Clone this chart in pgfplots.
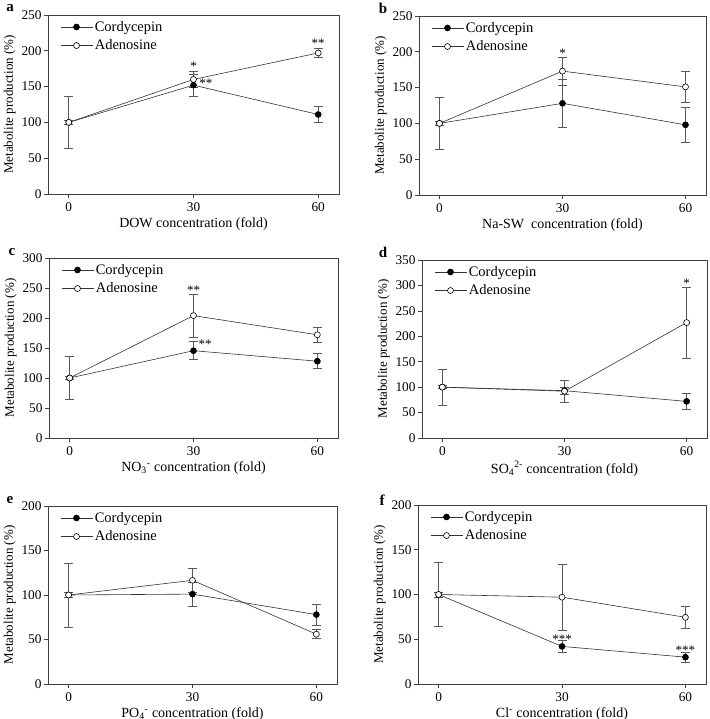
\documentclass[border=0pt]{standalone}
\usepackage{fontspec}
\setmainfont{Liberation Serif}
\usepackage{pgfplots}
\pgfplotsset{compat=1.18}
\pgfkeys{/pgf/number format/assume math mode=true}
\newcommand{\lf}{\fontsize{14.5}{16}\selectfont}
\newcommand{\xf}{\fontsize{14}{15}\selectfont}
\newcommand{\yf}{\fontsize{13}{15}\selectfont}
\pgfplotsset{
  panel/.style={
    scale only axis, height=179pt, anchor=south west,
    xmin=-5, xmax=65, xtick={0,30,60},
    tick align=outside, xtick pos=bottom, ytick pos=left,
    major tick length=4pt,
    axis line style={draw=black!75, line width=0.6pt},
    every tick/.style={black!75, line width=0.6pt},
    every tick label/.append style={font=\fontsize{13.3}{15}\selectfont},
    yticklabel style={xshift=1pt},
    xticklabel style={yshift=-1pt},
    ylabel={\yf Metabolite production (\%)},
    every axis y label/.append style={yshift=-1pt},
    every axis x label/.append style={yshift=1pt},
    every axis legend/.append style={draw=none, fill=none, at={(rel axis cs:0,1)}, anchor=north west,
      xshift=9pt, yshift=-2pt, row sep=3pt},
    legend cell align=left,
    legend image code/.code={\draw[mark repeat=2,mark phase=2,##1] plot coordinates {(0pt,0pt) (16pt,0pt) (32pt,0pt)};},
  },
  cord/.style={color=black!80, line width=0.6pt, mark=*, mark size=3pt,
    mark options={fill=black, draw=black, solid},
    error bars/.cd, y dir=both, y explicit,
    error bar style={black!65, line width=0.6pt},
    error mark options={rotate=90, mark size=4.5pt, black!65, line width=0.6pt}},
  aden/.style={color=black!80, line width=0.6pt, mark=*, mark size=3pt,
    mark options={fill=white, draw=black, solid},
    error bars/.cd, y dir=both, y explicit,
    error bar style={black!65, line width=0.6pt},
    error mark options={rotate=90, mark size=4.5pt, black!65, line width=0.6pt}},
}
\tikzset{ast/.style={font=\fontsize{13}{15}\selectfont, yshift=-2pt},
  lett/.style={font=\fontsize{15}{17}\selectfont\bfseries, inner sep=0pt}}
\begin{document}
\begin{tikzpicture}
\useasboundingbox (0,0) rectangle (709pt,719pt);
\node[lett] at (10pt,711pt) {a};
\node[lett] at (383pt,711pt) {b};
\node[lett] at (12pt,467pt) {c};
\node[lett] at (383pt,467pt) {d};
\node[lett] at (10pt,219pt) {e};
\node[lett] at (382pt,219pt) {f};

% a
\begin{axis}[panel, at={(48pt,525pt)}, width=291pt,
  ymin=0, ymax=250, ytick={0,50,...,250},
  xlabel={\xf DOW concentration (fold)}]
\addplot[cord] coordinates {(0,100) +- (0,36) (30,152) +- (0,15) (60,111) +- (0,11)};
\addplot[aden] coordinates {(0,100) +- (0,3) (30,160) +- (0,11) (60,197) +- (0,6)};
\legend{\lf Cordycepin, \lf Adenosine}
\node[ast] at (axis cs:30,181) {*};
\node[ast] at (axis cs:33,157) {**};
\node[ast] at (axis cs:60,213) {**};
\end{axis}

% b
\begin{axis}[panel, at={(419pt,524pt)}, width=287pt,
  ymin=0, ymax=250, ytick={0,50,...,250},
  xlabel={\xf Na-SW\ \ concentration (fold)}]
\addplot[cord] coordinates {(0,100) +- (0,36) (30,128) +- (0,33) (60,98) +- (0,25)};
\addplot[aden] coordinates {(0,100) +- (0,3) (30,173) +- (0,19.5) (60,151) +- (0,22)};
\legend{\lf Cordycepin, \lf Adenosine}
\node[ast] at (axis cs:30,201) {*};
\end{axis}

% c
\begin{axis}[panel, at={(49pt,281pt)}, width=289pt, height=180pt,
  ymin=0, ymax=300, ytick={0,50,...,300},
  xlabel={\xf NO\textsubscript{3}\textsuperscript{-} concentration (fold)}]
\addplot[cord] coordinates {(0,100) +- (0,36) (30,145.5) +- (0,15) (60,128) +- (0,12.5)};
\addplot[aden] coordinates {(0,100) +- (0,3) (30,204) +- (0,36) (60,172) +- (0,12)};
\legend{\lf Cordycepin, \lf Adenosine}
\node[ast] at (axis cs:30,249) {**};
\node[ast] at (axis cs:32.8,159) {**};
\end{axis}

% d
\begin{axis}[panel, at={(422pt,281pt)}, width=285pt, height=178pt,
  ymin=0, ymax=350, ytick={0,50,...,350},
  xlabel={\xf SO\textsubscript{4}\textsuperscript{2-} concentration (fold)}]
\addplot[cord] coordinates {(0,100) +- (0,36) (30,93) +- (0,7) (60,72) +- (0,16.5)};
\addplot[aden] coordinates {(0,100) +- (0,3) (30,92) +- (0,22) (60,227) +- (0,70)};
\legend{\lf Cordycepin, \lf Adenosine}
\node[ast] at (axis cs:60,309) {*};
\end{axis}

% e
\begin{axis}[panel, at={(48pt,35pt)}, width=289pt, height=178pt,
  ymin=0, ymax=200, ytick={0,50,...,200},
  xlabel={\xf PO\textsubscript{4}\textsuperscript{-} concentration (fold)}]
\addplot[cord] coordinates {(0,100) +- (0,36) (30,101) +- (0,13.5) (60,78) +- (0,12)};
\addplot[aden] coordinates {(0,100) +- (0,3) (30,116.5) +- (0,14) (60,56) +- (0,5)};
\legend{\lf Cordycepin, \lf Adenosine}
\end{axis}

% f
\begin{axis}[panel, at={(418pt,35pt)}, width=288pt,
  ymin=0, ymax=200, ytick={0,50,...,200},
  xlabel={\xf Cl\textsuperscript{-} concentration (fold)}]
\addplot[cord] coordinates {(0,100) +- (0,36) (30,42) +- (0,7) (60,30) +- (0,5.4)};
\addplot[aden] coordinates {(0,100) +- (0,3) (30,97) +- (0,37) (60,74.5) +- (0,12.7)};
\legend{\lf Cordycepin, \lf Adenosine}
\node[ast] at (axis cs:30,52) {***};
\node[ast] at (axis cs:60,40) {***};
\end{axis}
\end{tikzpicture}
\end{document}
